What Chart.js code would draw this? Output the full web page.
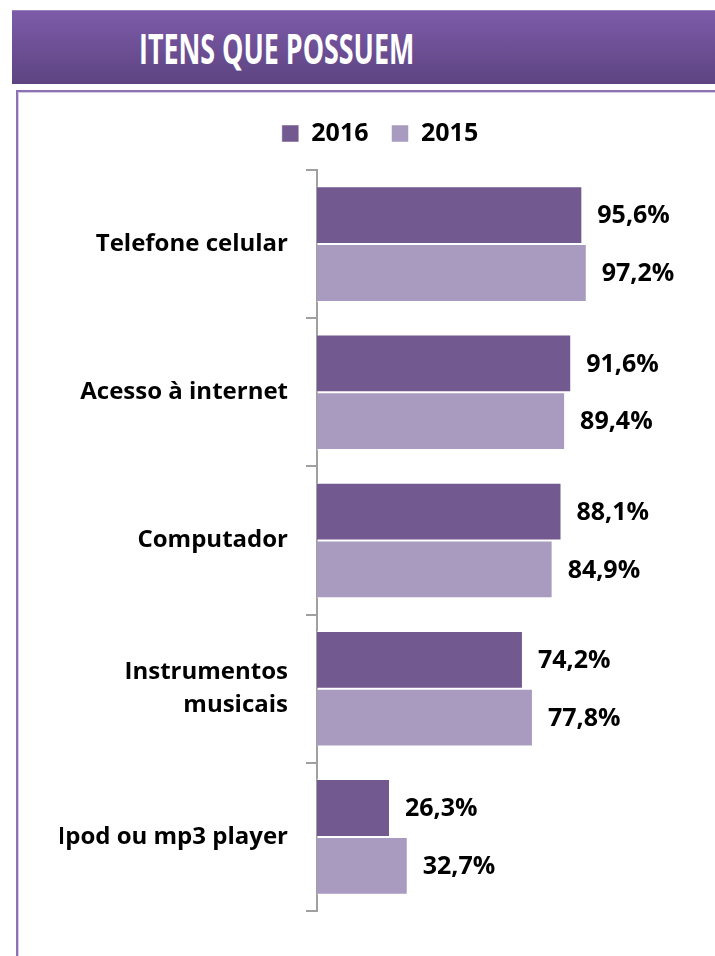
<!DOCTYPE html>
<html>
<head>
<meta charset="utf-8">
<script src="https://cdn.jsdelivr.net/npm/chart.js@4/dist/chart.umd.min.js"></script>
<style>
  body { margin: 0; background: #fff; width: 715px; height: 956px; overflow: hidden; position: relative; }
  #banner {
    position: absolute; left: 12px; top: 10px; width: 710px; height: 73px;
    background: linear-gradient(#7d5ba9, #5d4481);
    border-top: 1px solid #9a82c0;
  }
  #banner span {
    position: absolute; left: 127px; top: 12px; width: 500px;
    font-family: "Open Sans", sans-serif; font-weight: bold; font-size: 41px; color: #fff;
    transform: scaleX(0.655); transform-origin: left center; white-space: nowrap; line-height: 50px;
  }
  #box {
    position: absolute; left: 16px; top: 90px; width: 720px; height: 900px;
    border: 2px solid #8c72b2; box-shadow: inset 0 0 0 1px #d6cbe6;
  }
  #wrap { position: absolute; left: 0; top: 0; width: 715px; height: 956px; }
</style>
</head>
<body>
<div id="banner"><span>ITENS QUE POSSUEM</span></div>
<div id="box"></div>
<div id="wrap"><canvas id="chart"></canvas></div>
<script>
// dados
const categorias = ['Telefone celular', 'Acesso à internet', 'Computador', ['Instrumentos', 'musicais'], 'Ipod ou mp3 player'];
const anos = ['2016', '2015'];
const valores2016 = [95.6, 91.6, 88.1, 74.2, 26.3];
const valores2015 = [97.2, 89.4, 84.9, 77.8, 32.7];

const corEscura = '#72598f';
const corClara = '#a99ac0';
const fonte = '"Open Sans", sans-serif';

// desenha os rótulos "95,6%" à direita de cada barra
const rotulosValores = {
  id: 'rotulosValores',
  afterDatasetsDraw(chart) {
    const ctx = chart.ctx;
    ctx.save();
    ctx.font = 'bold 25px ' + fonte;
    ctx.fillStyle = '#000';
    ctx.textAlign = 'left';
    ctx.textBaseline = 'middle';
    chart.data.datasets.forEach((ds, i) => {
      chart.getDatasetMeta(i).data.forEach((bar, j) => {
        const txt = ds.data[j].toFixed(1).replace('.', ',') + '%';
        ctx.fillText(txt, bar.x + 15, bar.y + 1);
      });
    });
    ctx.restore();
  }
};

// espaço extra entre a legenda e as barras
const espacoLegenda = {
  id: 'espacoLegenda',
  beforeInit(chart) {
    const fitOrig = chart.legend.fit;
    chart.legend.fit = function () {
      fitOrig.bind(chart.legend)();
      this.height += 14;
    };
  }
};

new Chart(document.getElementById('chart'), {
  type: 'bar',
  data: {
    labels: categorias,
    datasets: [
      { label: anos[0], data: valores2016, backgroundColor: corEscura, borderColor: 'rgba(255,255,255,0.5)', borderWidth: 1 },
      { label: anos[1], data: valores2015, backgroundColor: corClara, borderColor: 'rgba(255,255,255,0.5)', borderWidth: 1 }
    ]
  },
  options: {
    indexAxis: 'y',
    responsive: true,
    maintainAspectRatio: false,
    animation: false,
    categoryPercentage: 0.78,
    barPercentage: 1.0,
    layout: { padding: { left: 60, right: 15, top: 98, bottom: 45 } },
    plugins: {
      legend: {
        position: 'top',
        labels: {
          boxWidth: 17, boxHeight: 17, padding: 23,
          color: '#000',
          font: { family: fonte, size: 25, weight: 'bold' }
        }
      },
      tooltip: { enabled: false }
    },
    scales: {
      x: { display: false, min: 0, max: 138 },
      y: {
        afterFit(scale) { scale.width = 257; },
        grid: { drawOnChartArea: false, drawTicks: true, tickLength: 11, color: '#a0a0a0', offset: true, lineWidth: 2 },
        border: { display: true, color: '#a0a0a0', width: 2 },
        ticks: {
          color: '#000', padding: 18,
          font: { family: fonte, size: 24, weight: 'bold', lineHeight: 1.4 }
        }
      }
    }
  },
  plugins: [rotulosValores, espacoLegenda]
});
</script>
</body>
</html>
